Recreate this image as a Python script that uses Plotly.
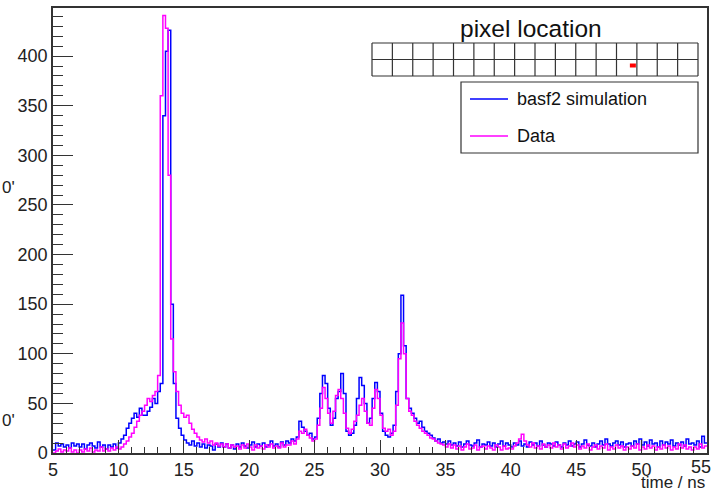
import plotly.graph_objects as go

# ---------------- data (0.2 ns bins from 5 to 55 ns) ----------------
BIN_START = 5.0
BIN_WIDTH = 0.2

sim_counts = [
    3, 10, 7, 9, 6,        # 5
    8, 5, 10, 7, 9,        # 6
    6, 9, 4, 8, 10,        # 7
    7, 5, 11, 6, 8,        # 8
    4, 8, 6, 9, 5,         # 9
    10, 14, 18, 25, 30,    # 10
    35, 40, 36, 45, 38,    # 11
    38, 42, 46, 55, 50,    # 12
    62, 70, 340, 405, 426, # 13
    150, 70, 35, 25, 18,   # 14
    13, 10, 8, 12, 7,      # 15
    10, 6, 9, 5, 8,        # 16
    7, 3, 9, 6, 10,        # 17
    6, 9, 5, 8, 4,         # 18
    9, 6, 10, 7, 5,        # 19
    8, 11, 6, 9, 7,        # 20
    10, 6, 8, 12, 7,       # 21
    9, 6, 11, 8, 12,       # 22
    10, 14, 12, 16, 32,    # 23
    26, 22, 18, 20, 14,    # 24
    16, 35, 60, 78, 70,    # 25
    45, 28, 35, 55, 62,    # 26
    80, 60, 22, 18, 20,    # 27
    28, 55, 76, 68, 50,    # 28
    30, 35, 55, 71, 62,    # 29
    40, 22, 18, 16, 20,    # 30
    28, 62, 100, 159, 108, # 31
    55, 45, 40, 35, 30,    # 32
    32, 26, 22, 20, 18,    # 33
    15, 12, 14, 10, 11,    # 34
    9, 12, 8, 10, 7,       # 35
    11, 6, 9, 12, 8,       # 36
    7, 10, 13, 6, 9,       # 37
    8, 11, 7, 10, 6,       # 38
    9, 12, 7, 10, 8,       # 39
    6, 10, 8, 12, 7,       # 40
    9, 6, 11, 8, 10,       # 41
    7, 12, 8, 6, 10,       # 42
    9, 7, 11, 8, 6,        # 43
    10, 8, 12, 7, 9,       # 44
    11, 6, 9, 13, 8,       # 45
    7, 10, 6, 9, 12,       # 46
    8, 14, 9, 7, 10,       # 47
    12, 8, 11, 6, 9,       # 48
    10, 7, 12, 9, 14,      # 49
    8, 11, 7, 13, 9,       # 50
    10, 6, 12, 8, 11,      # 51
    9, 13, 7, 10, 8,       # 52
    11, 7, 14, 9, 10,      # 53
    8, 12, 6, 17, 10,      # 54
]

data_counts = [
    0, 2, 4, 1, 3,         # 5
    2, 5, 1, 3, 0,         # 6
    3, 1, 4, 2, 5,         # 7
    1, 3, 2, 6, 2,         # 8
    4, 2, 5, 3, 6,         # 9
    4, 6, 9, 12, 16,       # 10
    20, 26, 32, 38, 42,    # 11
    48, 55, 52, 58, 62,    # 12
    78, 360, 441, 428, 280,# 13
    115, 82, 62, 48, 40,   # 14
    36, 38, 30, 24, 20,    # 15
    16, 13, 11, 14, 10,    # 16
    12, 8, 10, 7, 9,       # 17
    6, 9, 5, 8, 6,         # 18
    7, 4, 8, 5, 9,         # 19
    6, 3, 8, 5, 7,         # 20
    4, 8, 6, 9, 5,         # 21
    7, 5, 10, 6, 8,        # 22
    8, 12, 9, 14, 22,      # 23
    20, 24, 18, 15, 12,    # 24
    14, 28, 45, 66, 55,    # 25
    40, 30, 42, 58, 64,    # 26
    55, 40, 25, 20, 24,    # 27
    32, 38, 48, 55, 42,    # 28
    30, 28, 45, 64, 55,    # 29
    38, 25, 22, 24, 18,    # 30
    22, 48, 95, 131, 100,  # 31
    55, 42, 38, 32, 28,    # 32
    25, 22, 20, 18, 15,    # 33
    14, 12, 10, 9, 8,      # 34
    6, 9, 5, 8, 4,         # 35
    7, 3, 6, 9, 4,         # 36
    5, 8, 3, 6, 7,         # 37
    4, 7, 5, 3, 8,         # 38
    6, 3, 7, 4, 5,         # 39
    4, 7, 10, 14, 19,      # 40
    12, 8, 6, 10, 5,       # 41
    7, 4, 9, 6, 8,         # 42
    5, 10, 6, 8, 4,        # 43
    9, 5, 7, 10, 6,        # 44
    8, 4, 7, 5, 9,         # 45
    3, 6, 8, 4, 7,         # 46
    5, 9, 3, 6, 4,         # 47
    8, 5, 7, 3, 6,         # 48
    4, 7, 5, 9, 3,         # 49
    6, 4, 8, 5, 7,         # 50
    3, 6, 4, 8, 5,         # 51
    7, 3, 6, 4, 9,         # 52
    5, 8, 4, 6, 3,         # 53
    6, 4, 9, 5, 7,         # 54
]

series_names = ["basf2 simulation", "Data"]
series_colors = ["#0000ff", "#ff00ff"]
x_tick_values = [5, 10, 15, 20, 25, 30, 35, 40, 45, 50, 55]
x_title = "time / ns"
box_title = "pixel location"
n_pixel_cols = 16
n_pixel_rows = 2
hit_pixel = (12, 1)  # (column, row) of the red mark

# ---------------- layout geometry (pixels) ----------------
W, H = 714, 492
L, R, T, B = 53, 707, 8, 453
PW, PH = R - L, B - T
FONT = "Liberation Sans, Arial, Helvetica, sans-serif"
TICK_SIZE = 18


def px(x):
    return (x - L) / PW


def py(y):
    return (B - y) / PH


def edges(n):
    return [BIN_START + i * BIN_WIDTH for i in range(n + 1)]


fig = go.Figure()
for vals, name, col in zip([sim_counts, data_counts], series_names, series_colors):
    xs = edges(len(vals))
    ys = list(vals) + [vals[-1]]
    fig.add_trace(go.Scatter(x=xs, y=ys, mode="lines", line_shape="hv",
                             line=dict(color=col, width=1.5), name=name,
                             showlegend=False, hoverinfo="skip"))

axis_common = dict(showgrid=False, zeroline=False, showline=True, mirror=True,
                   automargin=False,
                   linecolor="#333", linewidth=1.5, ticks="inside", tickcolor="#333",
                   tickwidth=1, tickfont=dict(family=FONT, size=TICK_SIZE, color="#222"))

# the last x label (at the right frame edge) is drawn as an annotation, nudged inward
x_labelled = x_tick_values[:-1]
fig.update_xaxes(range=[5, 55], tickmode="array", tickvals=x_tick_values,
                 ticktext=[str(v) if v in x_labelled else "" for v in x_tick_values],
                 ticklen=13,
                 minor=dict(dtick=1, ticklen=6, ticks="inside", tickcolor="#333"),
                 **axis_common)
fig.update_yaxes(range=[0, 448.5], dtick=50, tick0=0, ticklen=20,
                 minor=dict(dtick=10, ticklen=10, ticks="inside", tickcolor="#333"),
                 **axis_common)

shapes = []
# pixel grid
gx0, gx1, gy0, gy1 = 372, 698, 43, 76
cw = (gx1 - gx0) / n_pixel_cols
rh = (gy1 - gy0) / n_pixel_rows
for i in range(n_pixel_cols + 1):
    xx = gx0 + i * cw
    shapes.append(dict(type="line", xref="paper", yref="paper", x0=px(xx), x1=px(xx),
                       y0=py(gy0), y1=py(gy1), line=dict(color="#333", width=1.2)))
for j in range(n_pixel_rows + 1):
    yy = gy0 + j * rh
    shapes.append(dict(type="line", xref="paper", yref="paper", x0=px(gx0), x1=px(gx1),
                       y0=py(yy), y1=py(yy), line=dict(color="#333", width=1.2)))
# red mark
hc, hr = hit_pixel
rx1 = gx0 + (hc + 1) * cw - 1
shapes.append(dict(type="rect", xref="paper", yref="paper", x0=px(rx1 - 6), x1=px(rx1),
                   y0=py(gy0 + hr * rh + 4), y1=py(gy0 + hr * rh + 8),
                   fillcolor="#ff0000", line=dict(width=0)))
# legend box
shapes.append(dict(type="rect", xref="paper", yref="paper", x0=px(461), x1=px(698),
                   y0=py(82), y1=py(153), fillcolor="white", line=dict(color="#333", width=1.2),
                   layer="above"))
for k, col in enumerate(series_colors):
    yy = 99 + k * 37
    shapes.append(dict(type="line", xref="paper", yref="paper", x0=px(470), x1=px(508),
                       y0=py(yy), y1=py(yy), line=dict(color=col, width=1.5)))

annotations = [
    dict(text=box_title, x=px(531), y=py(29), xref="paper", yref="paper", showarrow=False,
         xanchor="center", yanchor="middle", font=dict(family=FONT, size=24.5, color="#111")),
    dict(text=x_title, x=px(706), y=py(482), xref="paper", yref="paper", showarrow=False,
         xanchor="right", yanchor="middle", borderpad=0,
         font=dict(family=FONT, size=17, color="#222")),
    dict(text=str(x_tick_values[-1]), x=px(713), y=py(455), xref="paper", yref="paper",
         showarrow=False, xanchor="right", yanchor="top",
         font=dict(family=FONT, size=TICK_SIZE, color="#222")),
]
for k, name in enumerate(series_names):
    annotations.append(dict(text=name, x=px(515), y=py(99 + k * 37), xref="paper", yref="paper",
                            showarrow=False, xanchor="left", yanchor="middle",
                            font=dict(family=FONT, size=18, color="#111")))
for yy in (187, 420):
    annotations.append(dict(text="0'", x=px(0), y=py(yy), xref="paper", yref="paper",
                            showarrow=False, xanchor="left", yanchor="middle",
                            font=dict(family=FONT, size=17, color="#222")))

fig.update_layout(width=W, height=H, margin=dict(l=L, r=W - R, t=T, b=H - B),
                  paper_bgcolor="white", plot_bgcolor="white", showlegend=False,
                  shapes=shapes, annotations=annotations,
                  font=dict(family=FONT, size=16, color="#222"))

fig.write_html("out.html")
